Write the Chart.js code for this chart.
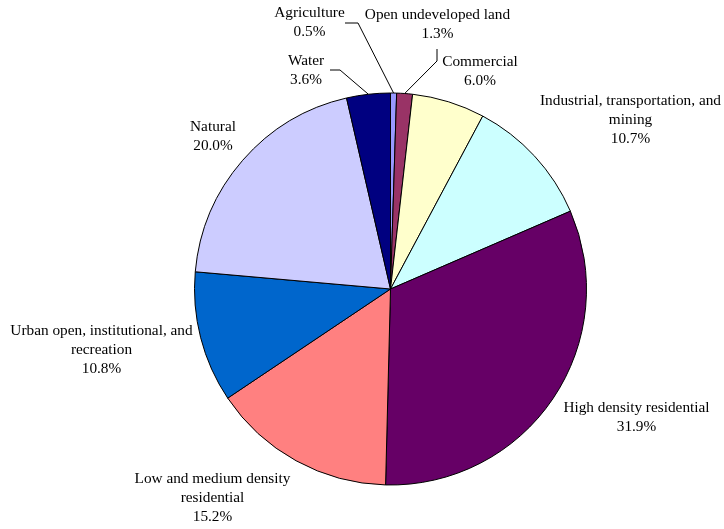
<!DOCTYPE html>
<html>
<head>
<meta charset="utf-8">
<style>
html,body{margin:0;padding:0;background:#fff;}
#wrap{width:724px;height:529px;}
</style>
<script src="https://cdn.jsdelivr.net/npm/chart.js@4"></script>
</head>
<body>
<div id="wrap"><canvas id="c" width="724" height="529"></canvas></div>
<script>
const categories = [
  "Agriculture",
  "Open undeveloped land",
  "Commercial",
  "Industrial, transportation, and mining",
  "High density residential",
  "Low and medium density residential",
  "Urban open, institutional, and recreation",
  "Natural",
  "Water"
];
const percentValues = [0.5, 1.3, 6.0, 10.7, 31.9, 15.2, 10.8, 20.0, 3.6];
const labelLines = [
  ["Agriculture"],
  ["Open undeveloped land"],
  ["Commercial"],
  ["Industrial, transportation, and", "mining"],
  ["High density residential"],
  ["Low and medium density", "residential"],
  ["Urban open, institutional, and", "recreation"],
  ["Natural"],
  ["Water"]
];
const sliceColors = ["#9999FF","#993366","#FFFFCC","#CCFFFF","#660066","#FF8080","#0066CC","#CCCCFF","#000080"];

// label layout relative to pie centre: x centre, y of first line; optional leader [startDx,startDy,bendDx,bendDy]
const labelLayout = [
  {dx:-81, dy:-276, leader:[-45.5,-266,-32.5,-266]},
  {dx:47,  dy:-274, leader:[46.5,-240,46.5,-228]},
  {dx:89.5, dy:-227},
  {dx:240, dy:-188},
  {dx:246, dy:119},
  {dx:-178, dy:190},
  {dx:-289, dy:42},
  {dx:-177.5, dy:-162},
  {dx:-84.5, dy:-228, leader:[-60.5,-219,-50.5,-219]}
];

const labelPlugin = {
  id: 'pieLabels',
  afterDatasetsDraw(chart) {
    const ctx = chart.ctx;
    const meta = chart.getDatasetMeta(0);
    ctx.save();
    ctx.font = '15.3px "Liberation Serif", "Times New Roman", serif';
    ctx.fillStyle = '#000';
    ctx.textAlign = 'center';
    ctx.textBaseline = 'middle';
    ctx.strokeStyle = '#000';
    ctx.lineWidth = 1;
    meta.data.forEach((arc, i) => {
      const cx = arc.x, cy = arc.y;
      const lay = labelLayout[i];
      const lines = labelLines[i].concat([percentValues[i].toFixed(1) + '%']);
      lines.forEach((t, k) => {
        ctx.fillText(t, cx + lay.dx, cy + lay.dy + k * 19);
      });
      if (lay.leader) {
        const mid = (arc.startAngle + arc.endAngle) / 2;
        const ex = cx + Math.cos(mid) * arc.outerRadius;
        const ey = cy + Math.sin(mid) * arc.outerRadius;
        ctx.beginPath();
        ctx.moveTo(cx + lay.leader[0], cy + lay.leader[1]);
        ctx.lineTo(cx + lay.leader[2], cy + lay.leader[3]);
        ctx.lineTo(ex, ey);
        ctx.stroke();
      }
    });
    ctx.restore();
  }
};

new Chart(document.getElementById('c'), {
  type: 'pie',
  data: {
    labels: categories,
    datasets: [{
      data: percentValues,
      backgroundColor: sliceColors,
      borderColor: '#000',
      borderWidth: 1
    }]
  },
  options: {
    responsive: false,
    animation: false,
    devicePixelRatio: 1,
    radius: 196,
    layout: { padding: { left: 57, right: 0, top: 49, bottom: 0 } },
    plugins: {
      legend: { display: false },
      tooltip: { enabled: false }
    }
  },
  plugins: [labelPlugin]
});
</script>
</body>
</html>
